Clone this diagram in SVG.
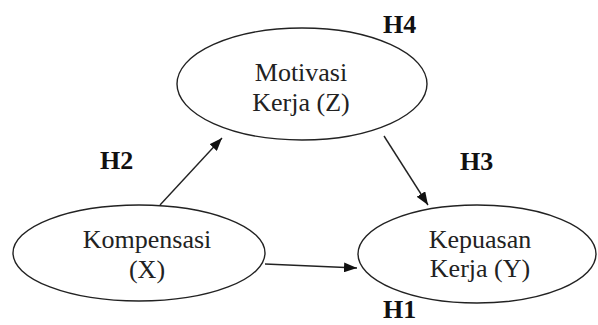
<svg xmlns="http://www.w3.org/2000/svg" width="598" height="325" viewBox="0 0 598 325">
<style>
.node ellipse{fill:#fff;stroke:#222;stroke-width:1.4}
text{font-family:'Liberation Serif','Times New Roman',Times,serif}
.lbl{font-size:26px;fill:#222;text-anchor:middle}
.h{font-size:26px;font-weight:bold;fill:#111}
.edge{stroke:#222;stroke-width:1.4;fill:none;marker-end:url(#ah)}
</style>
<defs>
<marker id="ah" viewBox="0 0 13 10" refX="13" refY="5" markerWidth="13" markerHeight="10" markerUnits="userSpaceOnUse" orient="auto">
<path d="M0,0 L13,5 L0,10 Z" fill="#111"/>
</marker>
</defs>
<rect width="598" height="325" fill="#fff"/>
<g id="connectors">
<line class="edge" x1="160" y1="205" x2="222" y2="138"/>
<line class="edge" x1="384" y1="136" x2="428" y2="205"/>
<line class="edge" x1="265" y1="264" x2="357" y2="268"/>
</g>
<g id="motivasi" class="node">
<ellipse cx="302" cy="84" rx="125" ry="56"/>
<text class="lbl" x="301" y="81">Motivasi</text>
<text class="lbl" x="301" y="111">Kerja (Z)</text>
</g>
<g id="kompensasi" class="node">
<ellipse cx="139" cy="253" rx="126" ry="48"/>
<text class="lbl" x="147" y="248">Kompensasi</text>
<text class="lbl" x="147" y="278">(X)</text>
</g>
<g id="kepuasan" class="node">
<ellipse cx="477" cy="254" rx="119" ry="49"/>
<text class="lbl" x="480" y="248">Kepuasan</text>
<text class="lbl" x="480" y="277">Kerja (Y)</text>
</g>
<g id="labels">
<text class="h" x="383" y="33">H4</text>
<text class="h" x="100" y="169">H2</text>
<text class="h" x="460" y="170">H3</text>
<text class="h" x="383" y="318">H1</text>
</g>
</svg>
